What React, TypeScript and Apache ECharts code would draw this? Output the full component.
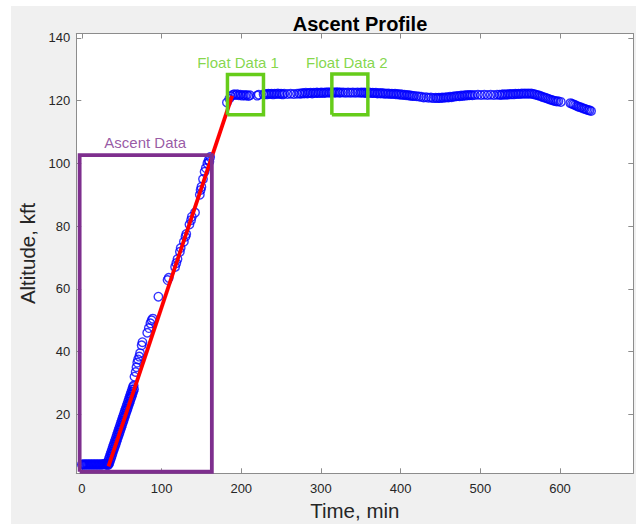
import React, { useEffect, useRef } from "react";
import * as echarts from "echarts";

// ---- data (time in min, altitude in kft) ----
const groundPoints: [number, number][] = [
  [0, 4.0], [1, 3.9], [2, 4.1], [3, 4.0], [4, 3.9], [5, 4.0], [6, 4.1], [7, 4.0], [8, 3.9], [9, 4.0],
  [10, 4.1], [11, 4.0], [12, 3.9], [13, 4.0], [14, 4.1], [15, 4.0], [16, 3.9], [17, 4.0], [18, 4.1],
  [19, 4.0], [20, 3.9], [21, 4.0], [22, 4.1], [23, 4.0], [24, 3.9], [25, 4.0], [26, 4.1], [27, 4.0],
  [28, 4.2], [29, 4.0], [30, 4.1], [31, 4.0],
];

const ascentDensePoints: [number, number][] = [
  [32, 4.3], [32.5, 3.8], [33, 5.1], [33.5, 4.0], [34, 5.9], [34.5, 4.5], [35, 6.6], [35.5, 5.2],
  [36, 7.4], [36.5, 6.0], [37, 8.1], [37.5, 6.7], [38, 8.9], [38.5, 7.5], [39, 9.7], [39.5, 8.3],
  [40, 10.4], [40.5, 9.0], [41, 11.2], [41.5, 9.8], [42, 11.9], [42.5, 10.5], [43, 12.7], [43.5, 11.3],
  [44, 13.5], [44.5, 12.1], [45, 14.2], [45.5, 12.8], [46, 15.0], [46.5, 13.6], [47, 15.7], [47.5, 14.3],
  [48, 16.5], [48.5, 15.1], [49, 17.3], [49.5, 15.9], [50, 18.0], [50.5, 16.6], [51, 18.8], [51.5, 17.4],
  [52, 19.5], [52.5, 18.1], [53, 20.3], [53.5, 18.9], [54, 21.1], [54.5, 19.7], [55, 21.8], [55.5, 20.4],
  [56, 22.6], [56.5, 21.2], [57, 23.3], [57.5, 21.9], [58, 24.1], [58.5, 22.7], [59, 24.9], [59.5, 23.5],
  [60, 25.6], [60.5, 24.2], [61, 26.4], [61.5, 25.0], [62, 27.1], [62.5, 25.7], [63, 27.9], [63.5, 26.5],
  [64, 28.7], [64.5, 27.3], [65, 29.2], [65.5, 28.0],
];

const ascentSparsePoints: [number, number][] = [
  [66, 32], [67.5, 33.5], [68.5, 35], [69.5, 36.5], [70.5, 37.5], [72, 38.4], [73, 39.5], [75, 42],
  [76, 43], [82, 46], [84, 47.5], [86, 49], [87.5, 50], [89, 50.5], [96, 57.5], [107.5, 62.8],
  [109, 63.5], [117, 67], [118.5, 68.2], [120, 69.5], [123, 71.8], [124, 73], [128, 75], [130, 76.6],
  [131, 77.5], [135, 80.5], [137, 81.9], [138, 83], [142, 84.3], [148, 90], [149, 91.5], [150, 92.5],
  [152, 95], [154, 97.3], [155.5, 98.5], [157.5, 100], [159, 101], [160, 100.5], [161, 102],
];

const floatPoints: [number, number][] = [
  [182, 119.4], [185, 120.6], [187, 121.4], [189, 121.8], [191, 122.0], [193, 121.8], [195, 122.0],
  [197, 121.7], [199, 121.9], [201, 121.6], [203, 121.8], [205, 121.6], [207, 121.8], [209, 121.5],
  [211, 121.7], [220, 121.6], [222, 121.9],
  [228, 122.0], [230, 122.1], [232, 122.0], [234, 122.2], [236, 122.1], [238, 122.2], [240, 122.0],
  [242, 122.2], [244, 122.1], [246, 122.3], [248, 122.1], [250, 122.2], [252, 122.0], [254, 122.2],
  [258, 122.1], [262, 122.2], [266, 122.1], [270, 122.2],
  [273, 122.3], [275, 122.2], [277, 122.4], [279, 122.3], [281, 122.5], [283, 122.3], [285, 122.4],
  [287, 122.5], [289, 122.3], [291, 122.5], [293, 122.4], [295, 122.6], [297, 122.4], [299, 122.5],
  [301, 122.6], [303, 122.4], [305, 122.6], [307, 122.5], [309, 122.7], [311, 122.5], [313, 122.6],
  [315, 122.7], [317, 122.5], [319, 122.6], [321, 122.7], [323, 122.5], [325, 122.6],
  [328, 122.6], [331, 122.5], [334, 122.6], [337, 122.5], [340, 122.6], [343, 122.5], [346, 122.6],
  [349, 122.5],
  [351, 122.6], [353, 122.5], [355, 122.6], [357, 122.4], [359, 122.5], [361, 122.6], [363, 122.4],
  [365, 122.5], [367, 122.4], [369, 122.5], [371, 122.3], [373, 122.4], [375, 122.3], [377, 122.4],
  [379, 122.2], [381, 122.3], [383, 122.2], [385, 122.3], [387, 122.1], [389, 122.2], [391, 122.1],
  [393, 122.2], [395, 122.0], [397, 122.1], [399, 121.9], [401, 122.0], [403, 121.8], [405, 121.9],
  [407, 121.7], [409, 121.8], [411, 121.6], [413, 121.6], [415, 121.5], [417, 121.5],
  [420, 121.4], [423, 121.3], [426, 121.2], [429, 121.0], [432, 121.1], [435, 120.9], [438, 121.0],
  [441, 120.8], [444, 120.9],
  [446, 120.8], [448, 120.9], [450, 120.8], [452, 121.0], [454, 120.9], [456, 121.0], [458, 121.1],
  [460, 121.0], [462, 121.2], [464, 121.1], [466, 121.3], [468, 121.3], [470, 121.4], [472, 121.5],
  [474, 121.4], [476, 121.6], [478, 121.5], [480, 121.7], [482, 121.6], [484, 121.8], [486, 121.7],
  [488, 121.8], [490, 121.7],
  [493, 121.8], [497, 121.9], [501, 121.8], [505, 121.9], [509, 121.8], [513, 121.9], [517, 121.8],
  [521, 121.9],
  [524, 121.9], [526, 121.8], [528, 122.0], [530, 121.9], [532, 122.0], [534, 121.9], [536, 122.1],
  [538, 122.0], [540, 122.1], [542, 122.0], [544, 122.2], [546, 122.1], [548, 122.2], [550, 122.1],
  [552, 122.3], [554, 122.2], [556, 122.3], [558, 122.2], [560, 122.3], [562, 122.2], [564, 122.3],
  [566, 122.1], [568, 122.0], [570, 121.9], [572, 121.7], [574, 121.6], [576, 121.4], [578, 121.2],
  [580, 121.0], [582, 120.9], [584, 120.7], [586, 120.5], [588, 120.3], [590, 120.2], [592, 120.0],
  [594, 119.9], [596, 119.7], [598, 119.8], [601, 119.6],
  [613, 119.2], [615, 119.0], [617, 118.8], [619, 118.6], [621, 118.3], [623, 118.1], [625, 117.9],
  [627, 117.8], [629, 117.5], [631, 117.4], [633, 117.2], [635, 117.0], [637, 116.9], [639, 116.7],
];

const fitLine: [number, number][] = [[33.4, 3.4], [188.6, 121.5]];

// boxes: [tMin, tMax, altMin, altMax]
const ascentBox = [-2.8, 163.1, 1.7, 102.6];
const floatBox1 = [182.7, 227.9, 115.5, 128.3];
const floatBox2 = [313.7, 358.9, 115.5, 128.5];

// annotation labels: [t, alt, text, colour]
const annotations: [number, number, string, string][] = [
  [79.4, 106.5, "Ascent Data", "#7e2f8e"],
  [196, 132, "Float Data 1", "#66cc1a"],
  [332.5, 132, "Float Data 2", "#66cc1a"],
];

const xTicks = [0, 100, 200, 300, 400, 500, 600];
const yTicks = [20, 40, 60, 80, 100, 120, 140];

const boxPath = (b: number[]) => [
  [b[0], b[2]], [b[1], b[2]], [b[1], b[3]], [b[0], b[3]], [b[0], b[2]],
];

const FONT = "'Liberation Sans', Arial, Helvetica, sans-serif";
const AXIS_COLOR = "#8c8c8c";

export default function App() {
  const ref = useRef<HTMLDivElement>(null);
  useEffect(() => {
    if (!ref.current) return;
    const chart = echarts.init(ref.current, undefined, { renderer: "svg" });
    const xMin = -7, xMax = 692, yMin = 1.2, yMax = 141.4;
    const axisCommon = {
      type: "value" as const,
      splitLine: { show: false },
      axisLine: { show: true, onZero: false, lineStyle: { color: AXIS_COLOR, width: 1 } },
    };
    chart.setOption({
      animation: false,
      title: {
        text: "Ascent Profile",
        left: 344,
        top: 3,
        textAlign: "center",
        textStyle: { fontFamily: FONT, fontSize: 20, fontWeight: "bold", color: "#000" },
      },
      grid: {
        left: 65.3,
        top: 27.5,
        right: 2.7,
        bottom: 50.7,
        containLabel: false,
        outerBoundsMode: "none",
        show: true,
        backgroundColor: "#ffffff",
        borderWidth: 0,
      },
      xAxis: [
        {
          ...axisCommon,
          position: "bottom",
          min: xMin,
          max: xMax,
          name: "Time, min",
          nameLocation: "middle",
          nameGap: 26,
          nameTextStyle: { fontFamily: FONT, fontSize: 20.5, color: "#262626" },
          axisTick: { show: true, inside: true, length: 5, customValues: xTicks, lineStyle: { color: AXIS_COLOR } },
          axisLabel: { customValues: xTicks, fontFamily: FONT, fontSize: 13, color: "#262626", margin: 9 },
        },
        {
          ...axisCommon,
          position: "top",
          min: xMin,
          max: xMax,
          axisTick: { show: true, inside: true, length: 5, customValues: xTicks, lineStyle: { color: AXIS_COLOR } },
          axisLabel: { show: false },
        },
      ],
      yAxis: [
        {
          ...axisCommon,
          position: "left",
          min: yMin,
          max: yMax,
          name: "Altitude, kft",
          nameLocation: "middle",
          nameGap: 31,
          nameRotate: 90,
          nameTextStyle: { fontFamily: FONT, fontSize: 20.5, color: "#262626" },
          axisTick: { show: true, inside: true, length: 5, customValues: yTicks, lineStyle: { color: AXIS_COLOR } },
          axisLabel: { customValues: yTicks, fontFamily: FONT, fontSize: 13, color: "#262626", margin: 6 },
        },
        {
          ...axisCommon,
          position: "right",
          min: yMin,
          max: yMax,
          axisTick: { show: true, inside: true, length: 5, customValues: yTicks, lineStyle: { color: AXIS_COLOR } },
          axisLabel: { show: false },
        },
      ],
      series: [
        {
          type: "scatter",
          symbol: "circle",
          symbolSize: 8.5,
          itemStyle: { color: "rgba(0,0,0,0)", borderColor: "#0000ff", borderWidth: 1.4 },
          data: [...groundPoints, ...ascentDensePoints, ...ascentSparsePoints, ...floatPoints],
          z: 2,
        },
        {
          type: "line",
          data: fitLine,
          showSymbol: false,
          lineStyle: { color: "#ff0000", width: 3.8 },
          z: 3,
        },
        ...[
          { b: ascentBox, c: "#7e2f8e", w: 3.8 },
          { b: floatBox1, c: "#66cc1a", w: 3.5 },
          { b: floatBox2, c: "#66cc1a", w: 3.5 },
        ].map((r) => ({
          type: "line",
          data: boxPath(r.b),
          showSymbol: false,
          lineStyle: { color: r.c, width: r.w, join: "miter" },
          z: 4,
        })),
        {
          type: "scatter",
          symbolSize: 0,
          silent: true,
          data: annotations.map((a) => ({
            value: [a[0], a[1]],
            label: {
              show: true,
              position: "inside",
              formatter: a[2],
              color: a[3],
              fontFamily: FONT,
              fontSize: 15,
            },
          })),
          z: 5,
        },
      ],
    });
    return () => chart.dispose();
  }, []);
  return (
    <div style={{ position: "absolute", left: 0, top: 0, width: 636, height: 524, background: "#ffffff" }}>
      <div style={{ position: "absolute", left: 11, top: 6, width: 625, height: 518, background: "#f0f0f0" }}>
        <div ref={ref} style={{ width: 625, height: 518 }} />
      </div>
    </div>
  );
}
